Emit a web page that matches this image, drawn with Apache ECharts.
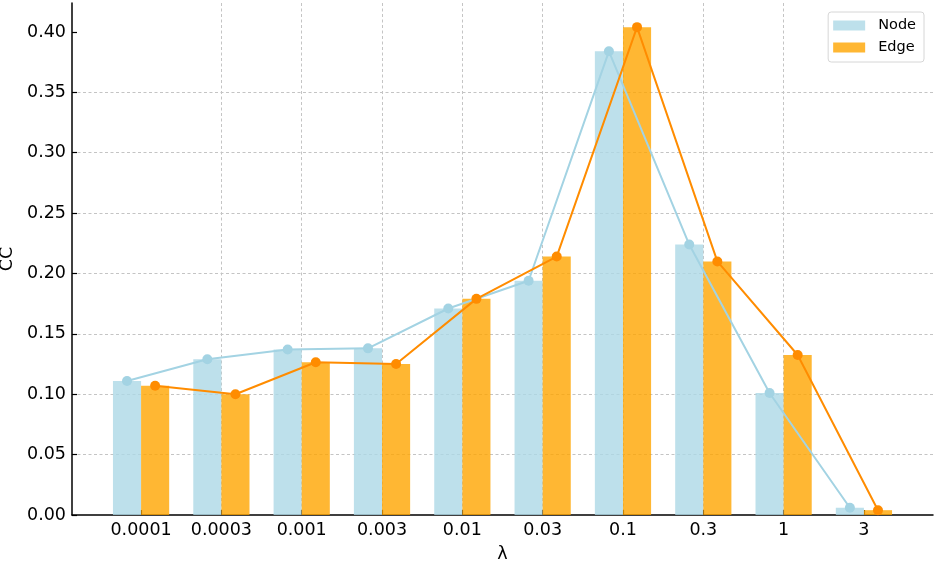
<!DOCTYPE html>
<html>
<head>
<meta charset="utf-8">
<script src="https://cdn.jsdelivr.net/npm/echarts@6/dist/echarts.min.js"></script>
<style>html,body{margin:0;padding:0;background:#fff}#c{width:935px;height:564px}</style>
</head>
<body>
<div id="c"></div>
<script>
const categories = ['0.0001','0.0003','0.001','0.003','0.01','0.03','0.1','0.3','1','3'];
const nodeValues = [0.111, 0.129, 0.137, 0.138, 0.171, 0.194, 0.384, 0.224, 0.101, 0.006];
const edgeValues = [0.107, 0.100, 0.1265, 0.125, 0.179, 0.214, 0.404, 0.210, 0.1325, 0.004];
const yTicks = [0, 0.05, 0.10, 0.15, 0.20, 0.25, 0.30, 0.35, 0.40];

const BAR_W = 0.35;
const idx = categories.map((_, i) => i);
const FONT = 'DejaVu Sans';

const chart = echarts.init(document.getElementById('c'), null, {renderer: 'canvas'});
const gridLine = {show: true, showMinLine: false, showMaxLine: false, lineStyle: {color: '#c4c4c4', type: [3, 2.5], width: 1}};
chart.setOption({
  animation: false,
  grid: {left: 72, right: 2, top: 3, bottom: 49, containLabel: false, outerBoundsMode: 'none'},
  legend: {
    data: ['Node', 'Edge'],
    right: 11, top: 12,
    orient: 'vertical',
    itemWidth: 32, itemHeight: 10, itemGap: 7,
    padding: [6, 8, 7, 5],
    borderColor: '#d6d6d6', borderWidth: 1, borderRadius: 3,
    backgroundColor: 'rgba(255,255,255,0.8)',
    icon: 'rect',
    textStyle: {fontFamily: FONT, fontSize: 14.5, color: '#000', padding: [0, 0, 0, 8]}
  },
  xAxis: {
    type: 'value', min: -0.86, max: 9.86,
    name: 'λ', nameLocation: 'middle', nameGap: 30,
    nameTextStyle: {fontFamily: FONT, fontSize: 17.5, color: '#000'},
    axisLine: {show: true, onZero: false, lineStyle: {color: '#000', width: 1.5}},
    axisTick: {show: true, inside: true, length: 5, customValues: idx, lineStyle: {color: '#000', width: 1.2}},
    axisLabel: {customValues: idx, formatter: v => categories[Math.round(v)] ?? '', fontFamily: FONT, fontSize: 17.5, color: '#000', margin: 6},
    splitLine: gridLine
  },
  yAxis: {
    type: 'value', min: 0, max: 0.424,
    name: 'CC', nameLocation: 'middle', nameGap: 49, nameRotate: 90,
    nameTextStyle: {fontFamily: FONT, fontSize: 17.5, color: '#000'},
    axisLine: {show: true, onZero: false, lineStyle: {color: '#000', width: 1.5}},
    axisTick: {show: true, inside: true, length: 5, customValues: yTicks, lineStyle: {color: '#000', width: 1.2}},
    axisLabel: {customValues: yTicks, formatter: v => v.toFixed(2), fontFamily: FONT, fontSize: 17.5, color: '#000', margin: 6},
    splitLine: gridLine
  },
  series: [
    {
      name: 'Node', type: 'bar', barWidth: (BAR_W * 100) + '%', barGap: '0%',
      itemStyle: {color: 'rgba(173,216,230,0.8)'},
      data: nodeValues.map((v, i) => [i, v]), z: 2
    },
    {
      name: 'Edge', type: 'bar', barWidth: (BAR_W * 100) + '%', barGap: '0%',
      itemStyle: {color: 'rgba(255,165,0,0.8)'},
      data: edgeValues.map((v, i) => [i, v]), z: 2
    },
    {
      name: 'Node line', type: 'line', symbol: 'circle', symbolSize: 10,
      lineStyle: {color: '#a3d3e3', width: 2}, itemStyle: {color: '#a3d3e3'},
      data: nodeValues.map((v, i) => [i - BAR_W / 2, v]), z: 3
    },
    {
      name: 'Edge line', type: 'line', symbol: 'circle', symbolSize: 10,
      lineStyle: {color: '#ff8c00', width: 2}, itemStyle: {color: '#ff8c00'},
      data: edgeValues.map((v, i) => [i + BAR_W / 2, v]), z: 4
    }
  ]
});
</script>
</body>
</html>
